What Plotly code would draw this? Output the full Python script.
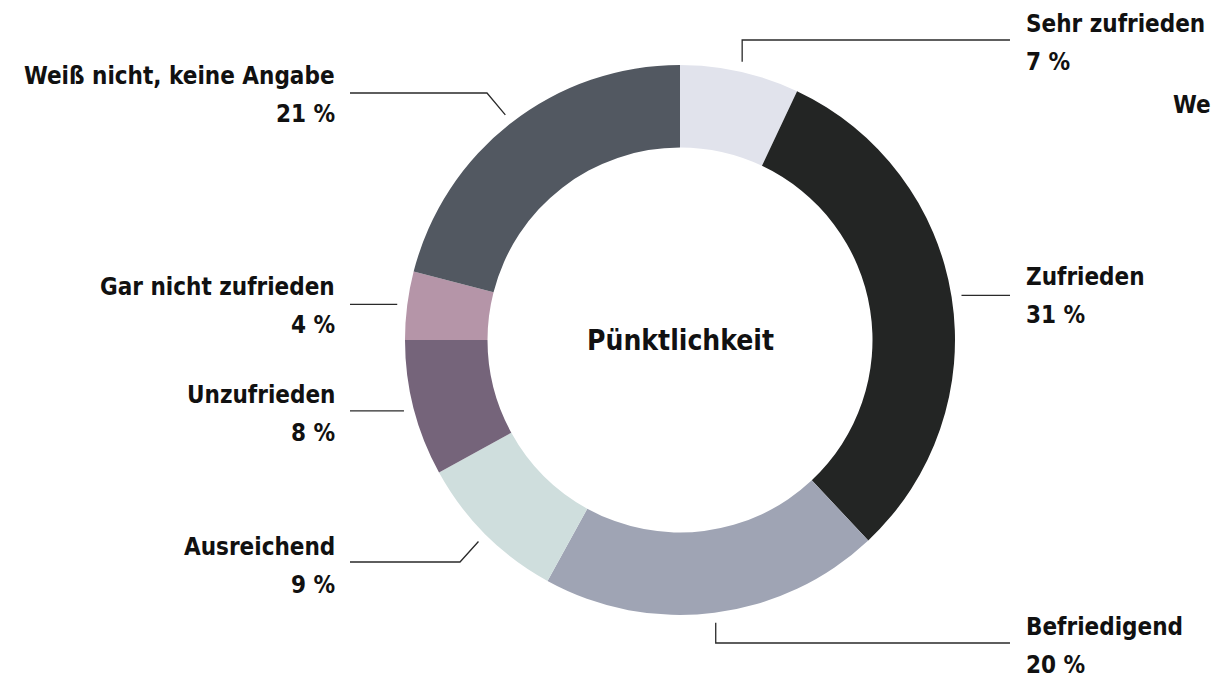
import math
import plotly.graph_objects as go

# ---- data ----
categories = ["Sehr zufrieden", "Zufrieden", "Befriedigend", "Ausreichend",
              "Unzufrieden", "Gar nicht zufrieden", "Weiß nicht, keine Angabe"]
values = [7, 31, 20, 9, 8, 4, 21]
value_labels = ["7 %", "31 %", "20 %", "9 %", "8 %", "4 %", "21 %"]
colors = ["#e1e3ec", "#232524", "#9fa4b4", "#cfdedd", "#75647a", "#b595a8", "#525861"]
center_title = "Pünktlichkeit"
neighbour_text = "We"

W, H = 1214, 682
CX, CY, R = 680, 340, 275
FONT = "DejaVu Sans Condensed"
FS = 24
GAP = 19

fig = go.Figure(go.Pie(
    labels=categories, values=values, marker=dict(colors=colors, line=dict(width=0)),
    hole=0.70, sort=False, direction="clockwise", rotation=0,
    textinfo="none", hoverinfo="label+percent",
    domain=dict(x=[(CX - R) / W, (CX + R) / W], y=[1 - (CY + R) / H, 1 - (CY - R) / H]),
))

layout_spec = [
    ("right", [("v", 40), ("h", 1010)], 43),
    ("right", [("h", 1010)], 296),
    ("right", [("v", 643), ("h", 1010)], 646),
    ("left", [("p", (460, 562)), ("h", 350)], 566),
    ("left", [("h", 350)], 414),
    ("left", [("h", 350)], 306),
    ("left", [("p", (487, 93)), ("h", 350)], 95),
]

def px(x, y):
    return x / W, 1 - y / H

shapes, annotations = [], []
total = sum(values)
cum = 0
for cat, v, vl, (side, pts, ly) in zip(categories, values, value_labels, layout_spec):
    ang = math.radians((cum + v / 2) / total * 360)
    cum += v
    rr = R + 10
    x0, y0 = CX + rr * math.sin(ang), CY - rr * math.cos(ang)
    path_pts = [(x0, y0)]
    cx_, cy_ = x0, y0
    for kind, val in pts:
        if kind == "v":
            cy_ = val
        elif kind == "h":
            cx_ = val
        else:
            cx_, cy_ = val
        path_pts.append((cx_, cy_))
    d = ""
    for i, (a, b) in enumerate(path_pts):
        pa, pb = px(a, b)
        d += ("M" if i == 0 else " L") + f" {pa:.5f} {pb:.5f}"
    shapes.append(dict(type="path", path=d, xref="paper", yref="paper",
                       line=dict(color="#2a2a2a", width=1.3)))
    if side == "right":
        ax, xanchor = 1024, "left"
    else:
        ax, xanchor = 337, "right"
    for txt, yy in ((cat, ly - GAP), (vl, ly + GAP)):
        axp, ayp = px(ax, yy)
        annotations.append(dict(x=axp, y=ayp, xref="paper", yref="paper", showarrow=False,
                                xanchor=xanchor, yanchor="middle",
                                text=f"<b>{txt}</b>",
                                font=dict(family=FONT, size=FS, color="#111111")))

cxp, cyp = px(CX, CY)
annotations.append(dict(x=cxp, y=cyp, xref="paper", yref="paper", showarrow=False,
                        xanchor="center", yanchor="middle", text=f"<b>{center_title}</b>",
                        font=dict(family=FONT, size=28, color="#111111")))
wx, wy = px(1213, 105)
annotations.append(dict(x=wx, y=wy, xref="paper", yref="paper", showarrow=False,
                        xanchor="right", yanchor="middle", text=f"<b>{neighbour_text}</b>",
                        font=dict(family=FONT, size=FS, color="#111111")))

fig.update_layout(width=W, height=H, margin=dict(l=0, r=0, t=0, b=0),
                  paper_bgcolor="white", plot_bgcolor="white", showlegend=False,
                  shapes=shapes, annotations=annotations)

fig.write_html("out.html", config={"displayModeBar": False},
               post_script="document.body.style.margin='0';document.body.style.overflow='hidden';")
